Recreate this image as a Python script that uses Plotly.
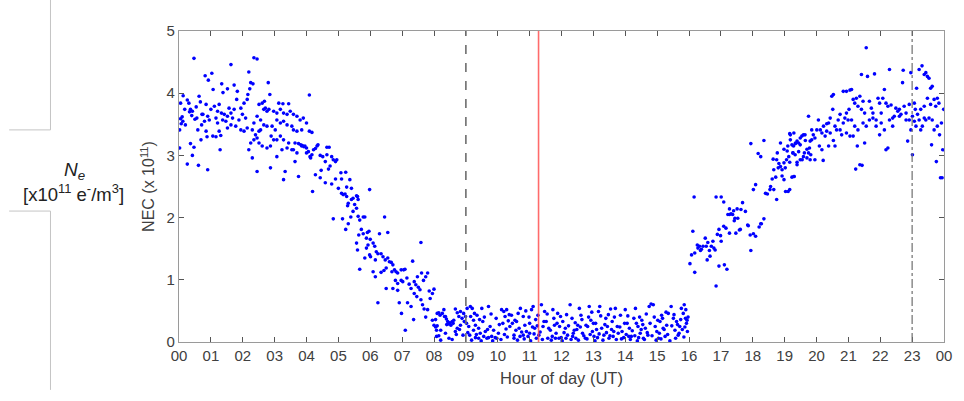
import plotly.graph_objects as go

# ---- NEC samples (hour of day UT, electron density in units of 1e11 e-/m^3) ----
# Daytime plateau, 00-04 UT
hours_day = [
    0.13, 0.05, 0.26, 0.31, 0.18, 0.05, 0.12, 0.20, 0.02, 0.07, 0.02, 0.26,
    0.36, 0.42, 0.40, 0.54, 0.47, 0.63, 0.67, 0.56, 0.59, 0.36, 0.47, 0.42, 0.61, 0.69,
    0.75, 0.82, 0.92, 1.03, 0.85, 0.90, 0.95, 1.00, 0.88, 0.90, 0.85, 0.71, 0.80,
    1.07, 1.34, 1.38, 1.11, 1.21, 1.26, 1.33, 1.16, 1.06, 1.16, 1.31, 1.21, 1.26, 1.37, 1.29,
    1.52, 1.73, 1.63, 1.42, 1.52, 1.63, 1.57, 1.68, 1.73, 1.52, 1.63, 1.47, 1.78, 1.81,
    1.83, 1.94, 2.04, 2.14, 1.88, 2.09, 1.94, 2.04, 2.14, 1.99, 2.19, 2.25, 2.22, 2.16, 2.19, 2.25,
    2.32, 2.35, 2.45, 2.30, 2.35, 2.40, 2.45, 2.51, 2.56, 2.45, 2.51, 2.35, 2.30, 2.45, 2.56, 2.61, 2.61, 2.51,
    2.68, 2.66, 2.71, 2.76, 2.82, 2.80, 2.85, 2.66, 2.76, 2.92, 3.02, 2.97, 3.07, 2.89, 2.97, 2.76, 2.87, 2.87, 3.07, 3.07,
    3.18, 3.28, 3.13, 3.26, 3.44, 3.39, 3.18, 3.28, 3.18, 3.28, 3.23, 3.07, 3.44, 3.39, 3.28, 3.33, 3.39,
    3.49, 3.59, 3.70, 3.80, 3.90, 4.00, 3.54, 3.59, 3.70, 3.85, 3.54, 3.59, 3.64, 3.75, 3.85, 3.95, 4.00,
    4.06, 4.11, 3.70, 3.64, 3.75, 4.00, 4.09, 4.09, 4.13, 3.82, 3.87, 3.92, 0.10, 0.33, 0.50, 0.72,
]
nec_day = [
    3.96, 3.84, 3.89, 3.84, 3.74, 3.59, 3.55, 3.49, 3.41, 3.51, 3.12, 2.86,
    3.74, 3.71, 3.64, 3.78, 4.56, 3.95, 3.86, 3.60, 3.41, 3.19, 3.13, 3.00, 2.84, 3.25,
    3.66, 4.28, 4.21, 4.32, 3.82, 3.63, 3.57, 3.74, 3.30, 2.77, 3.39, 3.49, 3.55,
    4.06, 4.15, 4.01, 3.79, 3.71, 3.82, 3.68, 3.60, 3.31, 3.30, 3.32, 3.52, 3.39, 3.57, 3.09,
    4.07, 4.13, 4.46, 3.66, 3.63, 3.68, 3.76, 3.60, 3.74, 3.44, 3.49, 3.55, 3.47, 3.90,
    4.03, 3.76, 3.84, 3.90, 3.57, 3.60, 3.41, 3.39, 3.44, 3.66, 4.34, 4.17, 4.07, 3.98, 3.09, 3.20,
    4.15, 4.57, 4.55, 3.41, 3.52, 3.33, 3.63, 3.39, 3.57, 3.28, 3.20, 3.25, 2.96, 2.74, 3.41, 3.15, 3.84, 3.82,
    3.87, 3.74, 3.76, 3.71, 3.74, 4.17, 3.98, 3.49, 3.47, 3.47, 3.41, 3.71, 3.68, 3.31, 3.25, 3.12, 3.15, 2.80, 3.57, 3.25,
    3.74, 3.68, 3.84, 3.83, 3.83, 3.66, 3.52, 3.55, 3.31, 3.25, 3.09, 2.98, 3.20, 3.49, 2.61, 2.74, 3.12,
    3.71, 3.66, 3.63, 3.57, 3.60, 3.52, 3.47, 3.41, 3.39, 3.41, 3.09, 3.09, 3.20, 3.19, 3.15, 3.15, 3.12,
    3.06, 2.98, 3.04, 2.90, 2.66, 3.04, 3.39, 3.97, 2.96, 3.17, 3.16, 3.14, 3.62, 3.70, 3.58, 3.66,
]

# Evening decay, 04-09 UT
hours_decay = [
    4.17, 4.28, 4.33, 4.36, 4.22, 4.17, 4.28, 4.43, 4.19, 4.46, 4.43, 4.51, 4.59, 4.64, 4.71,
    4.64, 4.79, 4.74, 4.69, 4.59, 4.84, 4.91, 4.95, 4.79, 4.91, 5.00,
    5.08, 5.23, 5.10, 5.36, 5.26, 5.41, 5.10, 5.15, 5.21, 5.26, 5.31, 5.29, 5.41, 5.46, 5.57,
    5.62, 5.51, 5.46, 5.57, 5.60, 5.98, 5.39, 5.62, 5.67, 5.78, 5.83, 4.84, 5.13, 5.31, 5.23,
    5.72, 5.64, 5.78, 5.91, 5.96, 5.57, 5.60, 5.88, 5.93, 6.00, 5.67, 5.83, 5.88, 5.98,
    6.45, 6.29, 6.55, 6.09, 6.14, 6.19, 6.24, 6.01, 6.16, 6.34, 6.40, 6.47, 6.55, 6.60, 6.66, 6.71,
    6.09, 6.16, 6.34, 6.43, 6.50, 6.68, 6.76, 6.81, 6.86, 6.97, 7.05, 7.09, 7.33, 7.59,
    6.79, 6.86, 6.97, 7.02, 7.15, 7.22, 7.28, 6.50, 6.71, 6.86, 6.24, 6.91, 7.17, 7.28, 6.98, 7.36, 7.10,
    7.38, 7.43, 7.51, 7.56, 7.67, 7.74, 7.80, 7.61, 7.48, 7.38, 7.46, 7.59, 7.64, 7.69, 7.80,
    7.88, 7.95, 8.00, 7.85, 7.74, 7.95, 8.00, 8.05, 8.08, 8.15, 8.21, 8.10, 8.19, 8.26, 8.31, 8.36, 8.05,
    8.15, 8.33, 8.39, 8.43, 8.50, 8.57, 8.62, 8.67, 8.73, 8.78, 8.83, 8.93, 8.99,
    8.10, 8.21, 8.08, 8.36, 8.57, 8.67, 8.73, 8.83, 8.91, 8.95,
    8.45, 8.53, 8.60, 8.70, 8.80, 8.88, 8.47, 8.40,
]
nec_decay = [
    3.37, 3.11, 3.15, 3.17, 3.09, 3.01, 2.69, 2.64, 2.42, 2.76, 3.00, 2.98, 2.90, 3.13, 3.13,
    3.01, 2.98, 2.83, 2.78, 2.56, 2.93, 2.90, 2.93, 2.54, 2.62, 2.47,
    2.72, 2.73, 2.62, 2.61, 2.49, 2.47, 2.39, 2.37, 2.38, 2.34, 2.23, 2.19, 2.29, 2.31, 2.35,
    2.29, 2.21, 2.10, 2.15, 2.34, 2.45, 2.01, 2.02, 1.96, 2.01, 2.01, 1.98, 1.98, 1.90, 1.81,
    1.81, 1.72, 1.74, 1.76, 1.78, 1.59, 1.48, 1.67, 1.56, 1.65, 1.17, 1.35, 1.51, 1.40,
    2.01, 1.74, 1.76, 1.59, 1.54, 1.45, 1.42, 1.37, 1.32, 1.42, 1.37, 1.32, 1.35, 1.29, 1.28, 1.24,
    1.13, 1.05, 1.12, 1.15, 1.19, 1.13, 1.16, 1.13, 1.11, 1.16, 1.16, 1.17, 1.30, 1.60,
    0.99, 0.94, 0.99, 0.97, 1.03, 0.93, 0.86, 0.86, 0.86, 0.83, 0.63, 0.63, 0.63, 0.57, 0.46, 0.36, 0.19,
    0.97, 0.92, 0.88, 0.84, 0.99, 1.05, 1.11, 1.11, 1.05, 0.78, 0.73, 0.68, 0.60, 0.53, 0.52,
    0.70, 0.78, 0.85, 0.82, 0.40, 0.35, 0.27, 0.24, 0.19, 0.10, 0.03, 0.46, 0.43, 0.46, 0.52, 0.41, 0.36,
    0.47, 0.41, 0.37, 0.33, 0.31, 0.33, 0.35, 0.53, 0.47, 0.41, 0.49, 0.46, 0.41,
    0.26, 0.19, 0.09, 0.14, 0.04, 0.17, 0.22, 0.27, 0.11, 0.33,
    0.29, 0.27, 0.30, 0.12, 0.20, 0.38, 0.06, 0.28,
]

# Night-time floor, 09-16 UT
hours_night = [
    9.04, 9.14, 9.09, 9.15, 9.20, 9.24, 9.30, 9.35, 9.24, 9.12, 9.40, 9.45, 9.50, 9.53, 9.61, 9.66,
    9.71, 9.76, 9.81, 9.87, 9.92, 9.97, 10.02, 9.30, 9.40, 9.56, 9.71,
    10.12, 10.19, 10.28, 10.23, 10.33, 10.38, 10.16, 10.26, 10.43, 10.51, 10.57, 10.59, 10.64, 10.71,
    10.80, 10.85, 10.90, 10.95, 11.00, 11.06, 11.11, 11.16, 11.21, 11.26, 10.51, 10.70, 10.80, 11.00, 11.37, 11.29,
    11.42, 11.47, 11.52, 11.57, 11.65, 11.73, 11.78, 11.83, 11.88, 11.94, 11.99, 12.04, 12.12, 12.19,
    12.27, 12.33, 12.40, 12.45, 12.51, 12.56, 11.71, 11.92, 12.14, 12.35,
    12.61, 12.66, 12.75, 12.82, 12.87, 12.92, 12.97, 13.02, 13.07, 13.16, 13.20, 13.26, 13.33, 13.39,
    13.44, 13.49, 13.54, 13.59, 13.64, 13.69, 13.75, 12.77, 13.13, 13.62,
    13.85, 13.90, 13.95, 14.00, 14.06, 14.13, 14.19, 14.27, 14.32, 14.40, 14.47, 14.52, 14.57, 14.63,
    14.71, 14.75, 14.81, 14.88, 14.94, 14.99, 15.04, 14.11, 14.42,
    15.09, 15.14, 15.19, 15.25, 15.30, 15.35, 15.44, 15.51, 15.56, 15.61, 15.66, 15.71, 15.76, 15.82,
    15.85, 15.89, 15.92, 15.95,
    9.02, 9.06, 9.18, 9.27, 9.33, 9.43, 9.48, 9.58, 9.68, 9.79, 9.84, 9.95, 10.05, 10.10, 10.21, 10.30,
    10.36, 10.46, 10.54, 10.62, 10.67, 10.75, 10.83, 10.88, 10.98, 11.03, 11.09, 11.14, 11.19, 11.24,
    11.33, 11.40, 11.45, 11.55, 11.60, 11.68, 11.76, 11.81, 11.86, 11.97, 12.02, 12.08, 12.16, 12.22,
    12.30, 12.37, 12.43, 12.48, 12.53, 12.59, 12.64, 12.70, 12.80, 12.85, 12.90, 12.95, 13.00, 13.05,
    13.10, 13.18, 13.23, 13.30, 13.36, 13.41, 13.47, 13.52, 13.57, 13.66, 13.72, 13.78, 13.83, 13.88,
    13.98, 14.03, 14.08, 14.16, 14.22, 14.30, 14.35, 14.38, 14.45, 14.50, 14.55, 14.60, 14.66, 14.69,
    14.78, 14.84, 14.91, 14.97, 15.02, 15.07, 15.12, 15.17, 15.22, 15.28, 15.33, 15.40, 15.46, 15.53,
    15.58, 15.64, 15.69, 15.74, 15.79, 15.84, 15.87, 15.90, 15.94, 15.97,
]
nec_night = [
    0.54, 0.57, 0.25, 0.41, 0.54, 0.35, 0.27, 0.43, 0.19, 0.11, 0.22, 0.14, 0.54, 0.33, 0.17, 0.06,
    0.57, 0.25, 0.09, 0.19, 0.07, 0.06, 0.14, 0.07, 0.06, 0.09, 0.07,
    0.52, 0.49, 0.52, 0.41, 0.34, 0.25, 0.30, 0.21, 0.43, 0.11, 0.19, 0.33, 0.46, 0.54,
    0.41, 0.27, 0.17, 0.09, 0.30, 0.52, 0.57, 0.22, 0.06, 0.43, 0.06, 0.09, 0.11, 0.14, 0.60, 0.11,
    0.25, 0.49, 0.33, 0.06, 0.19, 0.52, 0.27, 0.14, 0.46, 0.25, 0.07, 0.33, 0.22, 0.11,
    0.60, 0.38, 0.19, 0.06, 0.27, 0.54, 0.09, 0.06, 0.06, 0.09,
    0.43, 0.14, 0.06, 0.25, 0.57, 0.35, 0.17, 0.09, 0.30, 0.49, 0.57, 0.22, 0.11, 0.38,
    0.25, 0.06, 0.53, 0.33, 0.17, 0.54, 0.25, 0.27, 0.07, 0.09,
    0.43, 0.17, 0.07, 0.52, 0.30, 0.22, 0.09, 0.38, 0.54, 0.25, 0.14, 0.35, 0.06, 0.22,
    0.11, 0.57, 0.61, 0.60, 0.25, 0.17, 0.06, 0.09, 0.07,
    0.33, 0.43, 0.22, 0.09, 0.27, 0.46, 0.57, 0.38, 0.19, 0.33, 0.11, 0.25, 0.54, 0.46,
    0.60, 0.38, 0.30, 0.17,
    0.30, 0.15, 0.03, 0.46, 0.12, 0.36, 0.02, 0.40, 0.20, 0.45, 0.02, 0.38, 0.28, 0.04, 0.12, 0.08,
    0.44, 0.30, 0.35, 0.03, 0.22, 0.16, 0.05, 0.50, 0.40, 0.02, 0.24, 0.13, 0.36, 0.26,
    0.16, 0.04, 0.33, 0.45, 0.22, 0.03, 0.38, 0.06, 0.30, 0.41, 0.02, 0.15, 0.44, 0.26,
    0.04, 0.14, 0.31, 0.20, 0.03, 0.24, 0.36, 0.10, 0.05, 0.40, 0.12, 0.48, 0.30, 0.02,
    0.20, 0.13, 0.42, 0.03, 0.28, 0.15, 0.44, 0.10, 0.20, 0.40, 0.04, 0.14, 0.24, 0.05,
    0.30, 0.12, 0.42, 0.04, 0.18, 0.10, 0.30, 0.02, 0.40, 0.20, 0.28, 0.04, 0.45, 0.15,
    0.30, 0.10, 0.40, 0.03, 0.35, 0.14, 0.05, 0.38, 0.20, 0.48, 0.12, 0.02, 0.26, 0.44,
    0.06, 0.28, 0.14, 0.36, 0.20, 0.08, 0.24, 0.52, 0.35, 0.40,
]

# Morning rise, 16-19 UT
hours_rise = [
    16.16, 16.85, 17.01, 17.09, 17.68, 17.27, 17.51, 17.40, 17.77, 17.32, 17.27, 17.22, 17.37, 17.44,
    17.53, 17.42, 18.35, 18.27, 18.20, 17.09, 17.16, 16.94, 17.61, 17.86, 16.12, 16.89, 16.99, 17.27,
    17.47, 18.02, 18.09, 16.51, 16.75, 17.01, 16.59, 16.26, 16.33, 16.28, 16.39, 16.44, 16.54, 16.70,
    16.78, 16.64, 16.18, 16.08, 16.36, 16.82, 17.94, 16.66, 16.57, 16.03, 16.18, 16.94, 17.11, 17.19,
    16.85, 17.63, 17.58, 17.84, 17.92, 18.25,
    17.94, 18.35, 18.17, 18.25, 18.09, 18.02, 18.46, 18.54, 18.66, 18.75, 18.61, 18.72, 18.66, 18.64,
    18.75, 18.82, 18.87, 18.80, 18.92, 18.56, 18.40, 18.77, 18.87, 18.98,
]
nec_rise = [
    2.33, 2.33, 2.33, 2.25, 2.24, 2.14, 2.14, 2.11, 2.10, 2.06, 2.05, 2.05, 2.05, 1.99,
    1.99, 1.95, 1.98, 1.90, 1.85, 1.86, 1.83, 1.81, 1.81, 1.87, 1.78, 1.73, 1.71, 1.75,
    1.75, 1.74, 1.70, 1.67, 1.62, 1.62, 1.60, 1.56, 1.54, 1.51, 1.49, 1.54, 1.54, 1.54,
    1.51, 1.47, 1.43, 1.40, 1.47, 1.48, 1.47, 1.38, 1.32, 1.26, 1.12, 1.22, 1.24, 1.17,
    0.90, 2.13, 1.80, 1.88, 1.72, 1.90,
    3.19, 3.24, 3.03, 2.98, 2.53, 2.45, 2.38, 2.45, 2.45, 2.29, 2.62, 2.65, 2.77, 2.94,
    2.93, 2.87, 2.82, 2.80, 2.77, 2.50, 2.39, 3.04, 3.20, 3.10,
]

# Recovery to daytime levels, 19-24 UT
hours_eve = [
    19.02, 18.92, 18.98, 19.03, 19.11, 19.16, 19.23, 19.30, 19.08, 19.13, 19.16, 19.18, 19.23, 19.28,
    19.34, 19.39, 19.44, 19.49, 19.54, 19.59, 19.65, 19.70, 19.75, 19.80, 18.98, 19.06, 19.16, 19.39,
    19.26, 19.33, 19.55, 19.44, 19.62, 19.85, 19.80,
    19.10, 19.18, 19.29, 19.34, 19.49, 19.64, 19.75, 19.78, 19.85, 19.90, 19.95, 20.01, 19.26, 19.49,
    19.59, 19.70, 19.82, 19.95, 20.21, 19.39, 19.29,
    20.06, 20.12, 20.17, 20.22, 20.27, 20.32, 20.38, 20.43, 20.48, 20.53, 20.58, 20.63, 20.68, 20.74,
    20.79, 20.84, 20.89, 20.94, 20.99, 21.02, 20.09, 20.17, 20.38, 20.53, 20.74, 20.94, 21.05, 20.58,
    20.43, 20.51, 20.32, 20.84, 20.94, 21.05, 21.10,
    21.15, 21.20, 21.25, 21.30, 21.36, 21.41, 21.46, 21.51, 21.56, 21.41, 21.60, 21.66, 21.72, 21.77,
    21.82, 21.87, 21.93, 21.98, 22.03, 22.08, 21.10, 21.20, 21.30, 21.46, 21.56, 21.66, 21.77, 21.51,
    21.23, 21.36, 21.43, 21.28, 21.15, 21.87, 21.98,
    22.13, 22.18, 22.24, 22.29, 22.34, 22.39, 22.44, 22.49, 22.55, 22.60, 22.65, 22.70, 22.72, 22.75,
    22.81, 22.86, 22.91, 22.96, 23.01, 23.01, 23.07, 22.18, 22.24, 22.29, 22.39, 22.60, 22.81, 22.91,
    22.96, 23.07, 22.13, 22.03,
    23.14, 23.22, 23.31, 23.38, 23.43, 23.48, 23.53, 23.58, 23.63, 23.17, 23.22, 23.27, 23.32, 23.38,
    23.43, 23.48, 23.53, 23.58, 23.61, 23.69, 23.74, 23.76, 23.79, 23.84, 23.86, 23.89, 23.94, 23.92,
    23.96, 23.99, 23.63, 23.69, 23.79, 23.38, 23.27, 23.12, 23.10,
]
nec_eve = [
    2.80, 2.67, 2.61, 2.42, 2.42, 2.45, 2.65, 2.66, 3.07, 2.98, 3.35, 3.25, 3.17, 3.15,
    3.19, 3.23, 3.20, 3.17, 3.31, 3.33, 3.24, 3.10, 3.04, 3.23, 2.88, 2.93, 2.89, 2.89,
    3.04, 3.01, 2.93, 3.06, 3.04, 3.41, 2.93,
    3.15, 3.33, 3.36, 3.20, 3.28, 3.33, 3.63, 3.12, 3.25, 3.33, 3.28, 3.41, 3.04, 2.93,
    2.98, 2.96, 3.01, 2.93, 2.92, 2.85, 2.66,
    3.57, 3.41, 3.36, 3.47, 3.31, 3.39, 3.52, 3.60, 3.95, 3.98, 3.47, 3.41, 3.57, 3.66,
    3.33, 3.52, 3.60, 3.68, 3.57, 3.74, 3.15, 3.09, 3.15, 3.24, 3.41, 3.36, 3.31, 3.15,
    3.36, 3.74, 3.51, 4.03, 4.03, 4.05, 4.06,
    3.90, 3.84, 3.92, 3.79, 3.95, 3.74, 3.87, 3.68, 4.73, 4.30, 4.27, 3.87, 3.76, 3.68,
    4.31, 3.57, 3.92, 3.84, 3.68, 3.92, 3.57, 3.47, 3.41, 3.52, 3.47, 3.57, 3.60, 3.20,
    2.78, 2.85, 2.84, 3.15, 3.31, 3.47, 3.33,
    4.06, 3.84, 3.79, 4.38, 3.81, 3.47, 3.63, 3.76, 3.71, 3.74, 3.66, 4.17, 4.37, 3.79,
    3.68, 3.23, 3.82, 4.33, 3.63, 3.01, 3.84, 3.09, 3.12, 3.57, 3.60, 3.63, 3.57, 3.57,
    3.41, 3.55, 3.41, 3.52,
    4.08, 4.38, 4.44, 4.30, 4.33, 4.27, 4.24, 4.08, 4.11, 3.66, 3.57, 3.41, 3.47, 3.79,
    3.57, 3.92, 3.60, 3.82, 3.17, 3.90, 3.79, 2.90, 3.92, 3.84, 3.33, 2.64, 2.64, 3.52,
    3.09, 3.74, 3.57, 3.41, 3.47, 3.60, 3.74, 3.47, 3.74,
]

# Reference times marked on the time axis
dashed_hour = 9.0
red_hour = 11.28
dashdot_hour = 23.0

hour_ticks = list(range(25))
hour_labels = [f"{h % 24:02d}" for h in hour_ticks]
nec_ticks = [0, 1, 2, 3, 4, 5]

hours = hours_day + hours_decay + hours_night + hours_rise + hours_eve
nec = nec_day + nec_decay + nec_night + nec_rise + nec_eve

FONT = "Liberation Sans, Arial, Helvetica, sans-serif"
AXIS_GRAY = "#9a9a9a"
TEXT_GRAY = "#404040"

fig = go.Figure()
fig.add_trace(go.Scatter(
    x=hours, y=nec, mode="markers",
    marker=dict(color="#0000ff", size=3.6, line=dict(width=0)),
    cliponaxis=True, showlegend=False, hoverinfo="x+y",
))

# vertical event markers
for xv, col, dash, w in [
    (dashed_hour, "#6e6e6e", "dash", 1.6),
    (red_hour, "rgba(255,70,70,0.8)", "solid", 1.6),
    (dashdot_hour, "#6e6e6e", "dashdot", 1.2),
]:
    fig.add_shape(type="line", xref="x", yref="paper", x0=xv, x1=xv, y0=0, y1=1,
                  line=dict(color=col, width=w, dash=dash), layer="above")

# bracket lines in the left label column
LINE_GRAY = "#c4c4c4"
for x0, y0, x1, y1 in [
    (-0.168, 1.10, -0.168, 0.682),
    (-0.222, 0.682, -0.168, 0.682),
    (-0.222, 0.421, -0.168, 0.421),
    (-0.168, 0.421, -0.168, -0.154),
]:
    fig.add_shape(type="line", xref="paper", yref="paper", x0=x0, y0=y0, x1=x1, y1=y1,
                  line=dict(color=LINE_GRAY, width=1))

fig.add_annotation(xref="paper", yref="paper", x=-0.137, y=0.55, showarrow=False,
                   xanchor="center", yanchor="middle",
                   text="<i>N<sub>e</sub></i>", font=dict(family=FONT, size=19, color="#222222"))
fig.add_annotation(xref="paper", yref="paper", x=-0.138, y=0.478, showarrow=False,
                   xanchor="center", yanchor="middle",
                   text="[x10<sup>11</sup> e<sup>-</sup>/m<sup>3</sup>]",
                   font=dict(family=FONT, size=18.5, color="#222222"))

axis_common = dict(
    showgrid=False, zeroline=False, showline=True, linecolor=AXIS_GRAY, linewidth=1.3,
    mirror="ticks", ticks="inside", ticklen=5, tickwidth=1, tickcolor="#555555",
    tickfont=dict(family=FONT, size=15, color=TEXT_GRAY),
)

fig.update_layout(
    width=964, height=401,
    margin=dict(l=179, r=12, t=31, b=59),
    paper_bgcolor="white", plot_bgcolor="white",
    xaxis=dict(range=[0, 24], tickvals=hour_ticks, ticktext=hour_labels,
               title=dict(text="Hour of day (UT)", standoff=9,
                          font=dict(family=FONT, size=16.5, color=TEXT_GRAY)),
               **axis_common),
    yaxis=dict(range=[0, 5], tickvals=nec_ticks,
               title=dict(text="NEC (x 10<sup>11</sup>)", standoff=7,
                          font=dict(family=FONT, size=16, color=TEXT_GRAY)),
               **axis_common),
)

fig.write_html("out.html")
